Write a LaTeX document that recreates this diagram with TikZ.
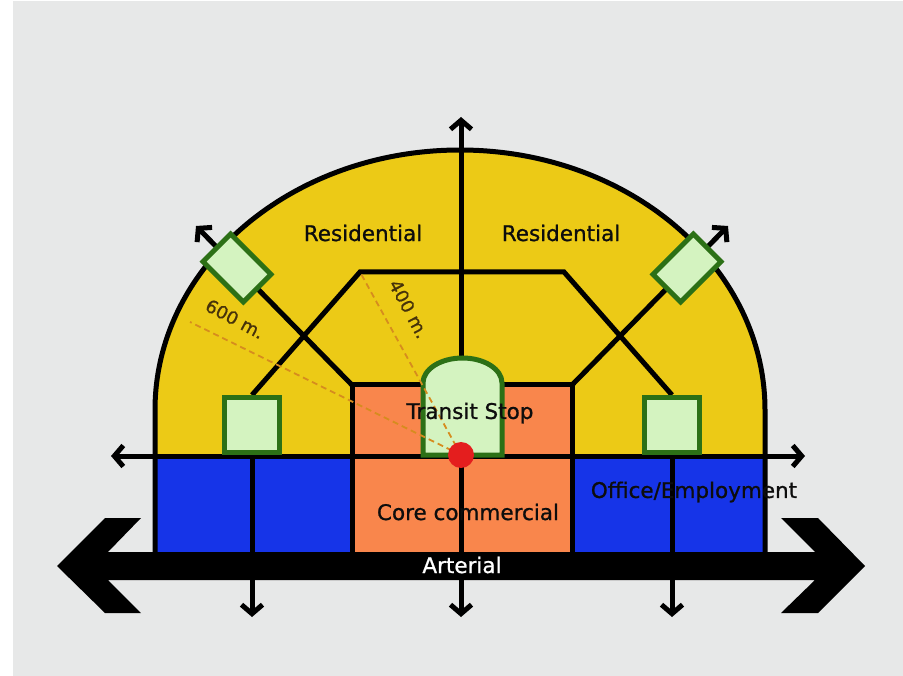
\documentclass[tikz,border=0pt]{standalone}
\usepackage{fontspec}
\setmainfont{DejaVu Sans}
\newfontfamily\zonefont{DejaVu Sans}[FakeBold=0.9]
\usetikzlibrary{arrows.meta}

\definecolor{bgGray}{RGB}{231,232,232}
\definecolor{resYellow}{RGB}{236,202,22}
\definecolor{offBlue}{RGB}{22,52,232}
\definecolor{coreOrange}{RGB}{249,134,76}
\definecolor{stopFill}{RGB}{212,243,192}
\definecolor{stopLine}{RGB}{44,112,22}
\definecolor{hubRed}{RGB}{228,30,30}
\definecolor{walkLine}{RGB}{214,140,30}
\definecolor{walkText}{RGB}{70,50,10}

\tikzset{
  road/.style={line width=5pt, black},
  roadarrow/.style={road, -{Straight Barb[length=9pt,width=21pt]}},
  roadboth/.style={road, {Straight Barb[length=9pt,width=21pt]}-{Straight Barb[length=9pt,width=21pt]}},
  station/.style={draw=stopLine, fill=stopFill, line width=5pt, inner sep=0pt},
  walk/.style={walkLine, line width=1.8pt, dash pattern=on 6pt off 4pt},
  zone/.style={font=\zonefont\fontsize{21.5}{24}\selectfont, text=black!95},
  walktext/.style={font=\zonefont\fontsize{18}{20}\selectfont, text=walkText, inner sep=1pt},
}

\begin{document}
\begin{tikzpicture}[x=1pt,y=-1pt]
  \useasboundingbox (0,0) rectangle (903,676);
  \fill[white] (0,0) rectangle (903,676);
  \fill[bgGray] (13,1) rectangle (903,676);

  % land use zones
  \fill[resYellow] (155,552) -- (155,410)
    arc[start angle=180, end angle=360, x radius=305, y radius=260]
    -- (765,552) -- cycle;
  \fill[offBlue] (155,456) rectangle (352,552);
  \fill[offBlue] (572,456) rectangle (765,552);
  \fill[coreOrange] (352,385) rectangle (572,552);

  \coordinate (hub) at (461,455);
  \coordinate (coreNW) at (352,385);
  \coordinate (coreNE) at (572,385);
  \coordinate (coreSW) at (352,552);
  \coordinate (coreSE) at (572,552);
  \coordinate (hexW) at (360,272);
  \coordinate (hexE) at (564,272);
  \coordinate (sqW) at (252,425);
  \coordinate (sqE) at (672,425);
  \coordinate (diaW) at (237,268);
  \coordinate (diaE) at (687,268);

  % street grid
  \draw[road] (coreSW) -- (coreNW) -- (coreNE) -- (coreSE);
  \draw[road] (sqW |- 0,395) -- (hexW) -- (hexE) -- (sqE |- 0,395);
  \draw[roadarrow] (coreNW) -- (196,226);
  \draw[roadarrow] (coreNE) -- (728,226);
  \draw[roadarrow] (sqW) -- (252,617);
  \draw[roadarrow] (sqE) -- (672,617);
  \draw[roadboth] (461,617) -- (461,117);
  \draw[roadboth] (111,456) -- (805,456);

  \draw[line width=5pt] (155,552) -- (155,410)
    arc[start angle=180, end angle=360, x radius=305, y radius=260]
    -- (765,552);

  % transit stop
  \draw[station] (423,455) -- (423,383)
    arc[start angle=180, end angle=360, x radius=39.5, y radius=25]
    -- (502,455) -- cycle;

  % walking radii
  \draw[walk] (hub) -- (190,322);
  \draw[walk] (hub) -- (hexW);
  \fill[hubRed] (hub) circle[radius=13];

  \node[station, minimum size=55pt] (stopW) at (sqW) {};
  \node[station, minimum size=55pt] (stopE) at (sqE) {};
  \node[station, minimum width=57pt, minimum height=39pt, rotate=-45] (stopNW) at (diaW) {};
  \node[station, minimum width=57pt, minimum height=39pt, rotate=45] (stopNE) at (diaE) {};

  % arterial
  \fill (57,566) -- (105,518) -- (141,518) -- (108,552) -- (815,552)
    -- (781,518) -- (818,518) -- (865,566) -- (818,613) -- (781,613)
    -- (815,580) -- (108,580) -- (141,613) -- (105,613) -- cycle;

  \node[zone] (resW) at (363,233) {Residential};
  \node[zone] (resE) at (561,233) {Residential};
  \node[zone] (transit) at (470,413) {Transit Stop};
  \node[zone] (core) at (468,512) {Core commercial};
  \node[zone] (office) at (694,492) {Office/Employment};
  \node[zone, text=white] (arterial) at (462,565) {Arterial};
  \node[walktext, rotate=-28] (r600) at (235,319) {600 m.};
  \node[walktext, rotate=-62] (r400) at (409,309) {400 m.};
\end{tikzpicture}
\end{document}
